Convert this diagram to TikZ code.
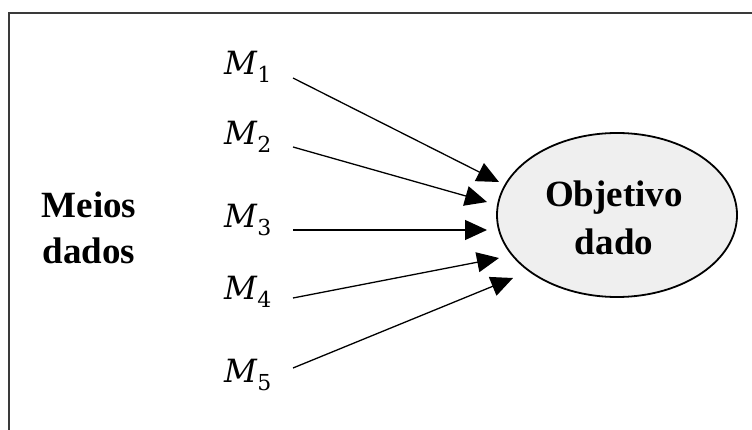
\documentclass[tikz,border=0pt]{standalone}
\usepackage{fontspec}
\setmainfont{Liberation Serif}
\newfontfamily\mfont{DejaVu Serif}
\usetikzlibrary{arrows.meta,shapes.geometric}
\definecolor{ellfill}{HTML}{EFEFEF}
\definecolor{framec}{HTML}{3A3A3A}
\newcommand\msub[1]{{\fontsize{32}{38}\selectfont\mfont\itshape M}\kern0.5pt\raisebox{-8pt}{\fontsize{22}{22}\selectfont\mfont #1}}
\tikzset{
  mlabel/.style={inner sep=0pt, anchor=base west},
  boldtext/.style={inner sep=0pt, align=center, font=\fontsize{37}{46}\selectfont\bfseries},
  goal/.style={ellipse, draw=black, line width=1.8pt, fill=ellfill, minimum width=240pt, minimum height=164pt, inner sep=0pt},
  conn/.style={line width=1.3pt, -{Triangle[length=22pt,width=20pt]}},
}
\begin{document}
\begin{tikzpicture}[x=1pt,y=-1pt]
\useasboundingbox (0,0) rectangle (752,430);
\draw[framec, line width=1.8pt] (9,432) -- (9,13) -- (754,13);
% labels
\node[mlabel] (m1) at (224,75) {\msub{1}};
\node[mlabel] (m2) at (224,145) {\msub{2}};
\node[mlabel] (m3) at (224,228) {\msub{3}};
\node[mlabel] (m4) at (224,299) {\msub{4}};
\node[mlabel] (m5) at (224,382) {\msub{5}};
\node[boldtext] (meios) at (89,228) {Meios\\dados};
\node[goal] (obj) at (617,215) {};
\node[boldtext, font=\fontsize{37}{48}\selectfont\bfseries] (objt) at (614,218) {Objetivo\\dado};
% connector ends
\coordinate (s1) at (293,78);  \coordinate (t1) at (499,182);
\coordinate (s2) at (293,147); \coordinate (t2) at (487,202);
\coordinate (s3) at (293,230); \coordinate (t3) at (487,230);
\coordinate (s4) at (293,298); \coordinate (t4) at (499,258);
\coordinate (s5) at (293,368); \coordinate (t5) at (513,278);
\draw[conn] (s1) -- (t1);
\draw[conn] (s2) -- (t2);
\draw[conn] (s3) -- (t3);
\draw[conn] (s4) -- (t4);
\draw[conn] (s5) -- (t5);
\end{tikzpicture}
\end{document}
